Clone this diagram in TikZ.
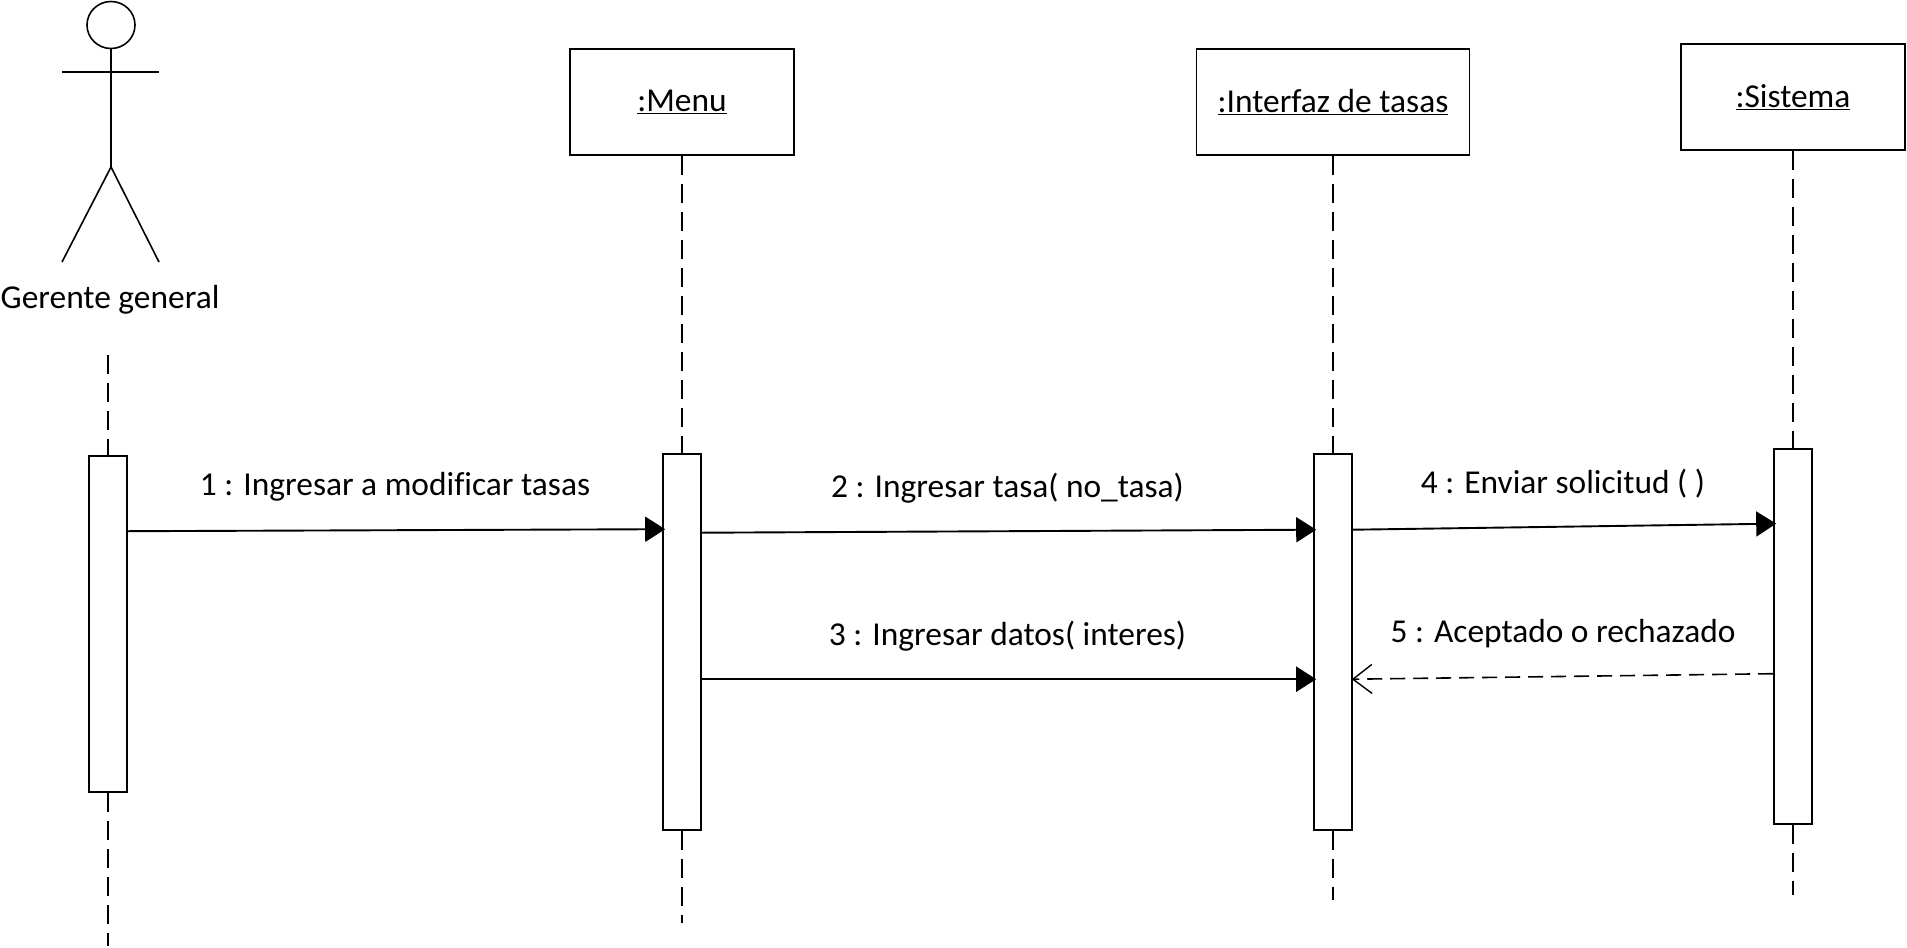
\documentclass[tikz,border=0pt]{standalone}
\usepackage{fontspec}
\setmainfont{Carlito}[Ligatures=NoCommon]
\usetikzlibrary{arrows.meta,shapes.geometric}
\tikzset{
  objbox/.style={draw, line width=1.6pt, minimum width=224pt, minimum height=106pt, inner sep=0pt},
  actbox/.style={draw, fill=white, line width=1.6pt, minimum width=38pt, inner sep=0pt},
  lifeline/.style={line width=1.5pt, dash pattern=on 19pt off 9pt},
  msg/.style={line width=1.9pt, -{Triangle[length=20pt,width=25pt]}, shorten >=-3pt},
  reply/.style={line width=1.6pt, dash pattern=on 15pt off 8pt, -{Straight Barb[length=19pt,width=29pt,line width=1.4pt]}, shorten >=-1pt},
  limb/.style={line width=1.6pt},
  lbl/.style={font=\fontsize{33.4}{40}\selectfont, inner sep=0pt}
}
\begin{document}
\begin{tikzpicture}[x=1pt, y=-1pt]
\useasboundingbox (0,0) rectangle (1907,948);

\node[draw, ellipse, line width=1.6pt, minimum width=48pt, minimum height=47pt, inner sep=0pt] (head) at (111,25) {};
\coordinate (hip) at (111,167);
\coordinate (armL) at (62,72);
\coordinate (armR) at (159,72);
\coordinate (footL) at (62,262);
\coordinate (footR) at (159,262);
\node[lbl] (actor) at (110,300) {Gerente general};

\draw[limb] (head) -- (hip);
\draw[limb] (armL) -- (armR);
\draw[limb] (footL) -- (hip) -- (footR);

\node[objbox, lbl] (menu) at (682,102) {\underline{:Menu}};
\node[objbox, lbl, minimum width=273pt] (tasas) at (1333,102) {\underline{:Interfaz de tasas}};
\node[objbox, lbl] (sistema) at (1793,97) {\underline{:Sistema}};

\coordinate (top1) at (108,355);
\coordinate (end1) at (108,946);
\coordinate (end2) at (682,923);
\coordinate (end3) at (1333,900);
\coordinate (end4) at (1793,895);

\node[actbox, minimum height=336pt] (act1) at (108,624) {};
\node[actbox, minimum height=376pt] (act2) at (682,642) {};
\node[actbox, minimum height=376pt] (act3) at (1333,642) {};
\node[actbox, minimum height=375pt] (act4) at (1793,636.5) {};

\draw[lifeline] (top1) -- (act1.north);
\draw[lifeline] (act1.south) -- (end1);
\draw[lifeline] (menu.south) -- (act2.north);
\draw[lifeline] (act2.south) -- (end2);
\draw[lifeline] (tasas.south) -- (act3.north);
\draw[lifeline] (act3.south) -- (end3);
\draw[lifeline] (sistema.south) -- (act4.north);
\draw[lifeline] (act4.south) -- (end4);

\draw[msg] ([yshift=-76pt]act1.north east) -- node[lbl, yshift=43pt] (m1) {1 : Ingresar a modificar tasas} ([yshift=-76pt]act2.north west);
\draw[msg] ([yshift=-79.5pt]act2.north east) -- node[lbl, yshift=43pt] (m2) {2 : Ingresar tasa( no\_tasa)} ([yshift=-76.5pt]act3.north west);
\draw[msg] ([yshift=-226pt]act2.north east) -- node[lbl, yshift=43pt] (m3) {3 : Ingresar datos( interes)} ([yshift=-226pt]act3.north west);
\draw[msg] ([yshift=-76.5pt]act3.north east) -- node[lbl, yshift=43pt] (m4) {4 : Enviar solicitud ( )} ([yshift=-75.5pt]act4.north west);
\draw[reply] ([yshift=-225.5pt]act4.north west) -- node[lbl, yshift=43pt] (m5) {5 : Aceptado o rechazado} ([yshift=-226pt]act3.north east);
\end{tikzpicture}
\end{document}
